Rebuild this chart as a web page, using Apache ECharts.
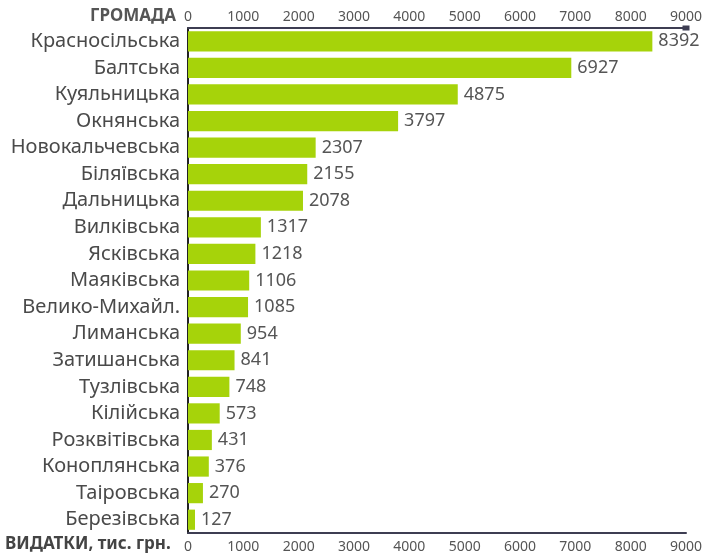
<!DOCTYPE html>
<html><head><meta charset="utf-8">
<script src="https://cdn.jsdelivr.net/npm/echarts@6/dist/echarts.min.js"></script>
<style>html,body{margin:0;padding:0;background:#fff}#c{width:708px;height:555px}</style>
</head><body><div id="c"></div>
<script>
const categories = ['Красносільська','Балтська','Куяльницька','Окнянська','Новокальчевська','Біляївська','Дальницька','Вилківська','Ясківська','Маяківська','Велико-Михайл.','Лиманська','Затишанська','Тузлівська','Кілійська','Розквітівська','Коноплянська','Таіровська','Березівська'];
const values = [8392,6927,4875,3797,2307,2155,2078,1317,1218,1106,1085,954,841,748,573,431,376,270,127];
const xMin = 0, xMax = 9000, xStep = 1000;
const FONT = 'Noto Sans';
const chart = echarts.init(document.getElementById('c'), null, {renderer:'canvas'});
const axisCommon = {
  type:'value', min:xMin, max:xMax, interval:xStep,
  splitLine:{show:false}, axisTick:{show:false},
  axisLine:{show:true, lineStyle:{color:'#3d3d52', width:2}}
};
const lbl = m => ({color:'#555', fontSize:14, fontFamily:FONT, margin:m, formatter: v => String(v)});
chart.setOption({
  animation:false,
  textStyle:{fontFamily:FONT},
  grid:{left:188, right:22, top:28, bottom:22},
  title:[
    {text:'ГРОМАДА', right:532, top:8, padding:0, textStyle:{fontSize:17, fontWeight:'bold', color:'#555', fontFamily:FONT}},
    {text:'ВИДАТКИ, тис. грн.', left:5, top:536, padding:0, textStyle:{fontSize:17, fontWeight:'bold', color:'#444', fontFamily:FONT}}
  ],
  xAxis:[
    Object.assign({}, axisCommon, {position:'top', axisLabel:lbl(4), axisLine:{show:true, symbol:['none','rect'], symbolSize:[5,7], lineStyle:{color:'#3d3d52', width:2}}}),
    Object.assign({}, axisCommon, {position:'bottom', axisLabel:lbl(7)})
  ],
  yAxis:{
    type:'category', data:categories, inverse:true,
    axisTick:{show:false},
    axisLine:{show:true, lineStyle:{color:'#222', width:2}},
    axisLabel:{color:'#4a4a4a', fontSize:20, fontFamily:FONT, margin:8}
  },
  series:[{
    type:'bar', data:values, xAxisIndex:0,
    barCategoryGap:'24%',
    itemStyle:{color:'#a6d30a'},
    label:{show:true, position:'right', distance:6, color:'#555', fontSize:18, fontFamily:FONT}
  }]
});
</script></body></html>
